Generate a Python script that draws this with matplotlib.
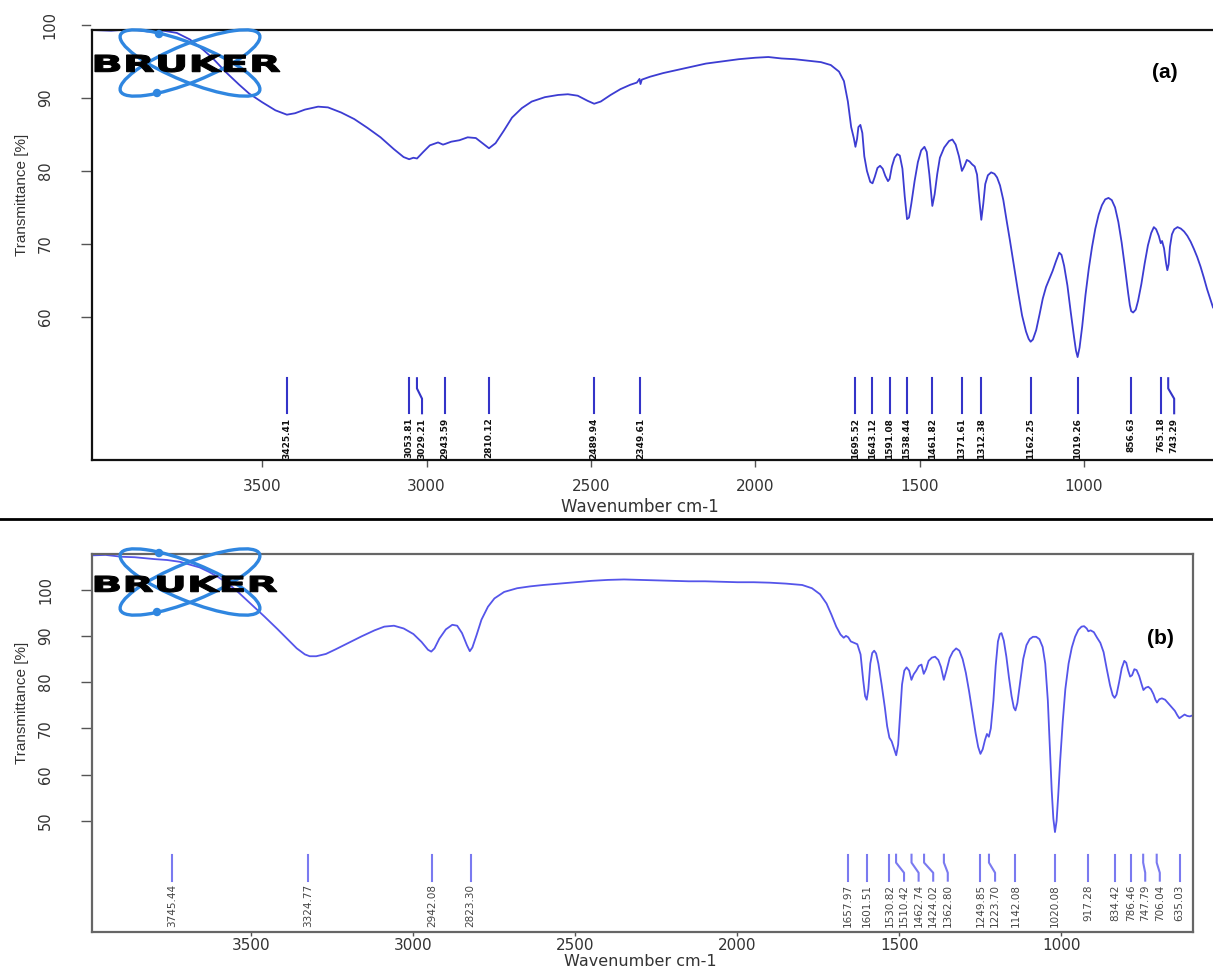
import numpy as np
import matplotlib
matplotlib.use("Agg")
import matplotlib.pyplot as plt
from matplotlib.patches import Ellipse, Circle, PathPatch
from matplotlib.textpath import TextPath
from matplotlib.font_manager import FontProperties
from matplotlib.transforms import Affine2D
from matplotlib.lines import Line2D

# ---- spectrum (a) ----
spec_a_wn = [4018, 3960, 3900, 3850, 3800, 3760, 3720, 3680, 3650, 3610, 3570, 3540, 3500, 3460, 3425,
             3400, 3370, 3330, 3300, 3260, 3220, 3180, 3140, 3100, 3070, 3053, 3040, 3029, 3010, 2990,
             2965, 2950, 2943, 2925, 2900, 2875, 2850, 2830, 2810, 2790, 2765, 2740, 2710, 2680, 2640,
             2600, 2570, 2540, 2510, 2490, 2470, 2440, 2410, 2380, 2360, 2352, 2349, 2345, 2320, 2280,
             2240, 2200, 2150, 2100, 2050, 2000, 1960, 1920, 1880, 1840, 1800, 1770, 1745, 1730, 1718,
             1708, 1700, 1695, 1690, 1686, 1680, 1674, 1668, 1660, 1650, 1643, 1636, 1628, 1620, 1612,
             1604, 1596, 1591, 1584, 1576, 1568, 1560, 1552, 1545, 1538, 1532, 1525, 1515, 1505, 1495,
             1485, 1478, 1470, 1461, 1454, 1446, 1438, 1425, 1410, 1400, 1390, 1380, 1371, 1364, 1356,
             1348, 1340, 1332, 1325, 1318, 1312, 1306, 1300, 1292, 1282, 1272, 1264, 1255, 1245, 1235,
             1225, 1212, 1200, 1188, 1176, 1168, 1162, 1155, 1145, 1135, 1125, 1115, 1105, 1095, 1085,
             1075, 1068, 1060, 1050, 1040, 1030, 1024, 1019, 1013, 1005, 995, 985, 975, 965, 955,
             945, 935, 925, 915, 905, 895, 885, 875, 865, 860, 856, 850, 842, 835, 825,
             815, 805, 795, 787, 780, 772, 766, 762, 756, 750, 746, 742, 738, 732, 725,
             715, 705, 695, 685, 675, 665, 655, 645, 635, 625, 615, 607]
spec_a_t = [99.3, 99.2, 99.4, 99.1, 99.2, 98.9, 98.0, 96.6, 95.4, 93.5, 91.8, 90.6, 89.4, 88.3, 87.7,
            87.9, 88.4, 88.8, 88.7, 88.0, 87.1, 85.9, 84.6, 83.0, 81.9, 81.6, 81.8, 81.7, 82.6, 83.5,
            83.9, 83.6, 83.7, 84.0, 84.2, 84.6, 84.5, 83.8, 83.1, 83.8, 85.5, 87.3, 88.6, 89.5, 90.1,
            90.4, 90.5, 90.3, 89.6, 89.2, 89.5, 90.4, 91.2, 91.8, 92.1, 92.6, 91.9, 92.5, 92.9, 93.4,
            93.8, 94.2, 94.7, 95.0, 95.3, 95.5, 95.6, 95.4, 95.3, 95.1, 94.9, 94.5, 93.6, 92.3, 89.5,
            86.0, 84.5, 83.3, 84.4, 86.0, 86.3, 85.2, 82.0, 80.0, 78.5, 78.3, 79.2, 80.4, 80.7, 80.3,
            79.3, 78.6, 78.9, 80.6, 81.8, 82.3, 82.1, 80.3, 76.5, 73.4, 73.6, 75.5, 78.6, 81.2, 82.8,
            83.3, 82.6, 79.5, 75.2, 76.8, 79.6, 81.8, 83.2, 84.1, 84.3, 83.6, 82.0, 80.0, 80.6, 81.5,
            81.3, 80.9, 80.6, 79.5, 76.0, 73.3, 75.5, 78.2, 79.4, 79.8, 79.6, 79.1, 78.0, 76.0, 73.2,
            70.5, 66.8, 63.4, 60.2, 58.0, 57.0, 56.6, 56.9, 58.2, 60.3, 62.5, 64.1, 65.2, 66.3, 67.6,
            68.8, 68.5, 67.0, 64.3, 60.7, 57.3, 55.4, 54.5, 55.8, 58.7, 63.0, 66.6, 69.6, 72.1, 74.0,
            75.3, 76.1, 76.3, 76.0, 75.0, 73.0, 70.2, 66.8, 63.2, 61.6, 60.8, 60.6, 61.0, 62.2, 64.5,
            67.3, 69.8, 71.5, 72.3, 72.0, 71.1, 70.1, 70.4, 69.4, 67.4, 66.4, 67.2, 69.6, 71.3, 72.0,
            72.3, 72.1, 71.7, 71.1, 70.3, 69.3, 68.2, 66.9, 65.4, 63.8, 62.4, 61.3]
peaks_a = [3425.41, 3053.81, 3029.21, 2943.59, 2810.12, 2489.94, 2349.61, 1695.52, 1643.12, 1591.08,
           1538.44, 1461.82, 1371.61, 1312.38, 1162.25, 1019.26, 856.63, 765.18, 743.29]

# ---- spectrum (b) ----
spec_b_wn = [3995, 3950, 3900, 3860, 3800, 3760, 3720, 3690, 3660, 3630, 3600, 3570, 3540, 3500, 3460,
             3420, 3390, 3360, 3335, 3320, 3300, 3270, 3240, 3200, 3160, 3120, 3090, 3060, 3030, 3000,
             2975, 2955, 2945, 2935, 2920, 2900, 2880, 2865, 2850, 2835, 2826, 2818, 2805, 2790, 2770,
             2750, 2720, 2680, 2640, 2600, 2550, 2500, 2450, 2400, 2350, 2300, 2250, 2200, 2150, 2100,
             2050, 2000, 1950, 1900, 1850, 1800, 1770, 1745, 1725, 1710, 1695, 1682, 1672, 1665, 1658,
             1650, 1640, 1630, 1620, 1612, 1606, 1601, 1596, 1590, 1584, 1578, 1572, 1565, 1555, 1545,
             1538, 1531, 1524, 1516, 1510, 1504, 1498, 1492, 1485, 1478, 1470, 1463, 1456, 1448, 1440,
             1432, 1425, 1418, 1410, 1400, 1390, 1380, 1372, 1363, 1355, 1345, 1335, 1325, 1315, 1305,
             1295, 1285, 1275, 1265, 1257, 1250, 1243, 1236, 1230, 1224, 1218, 1210, 1203, 1196, 1190,
             1185, 1178, 1170, 1162, 1154, 1147, 1142, 1136, 1128, 1118, 1108, 1098, 1088, 1078, 1068,
             1058, 1050, 1042, 1036, 1030, 1025, 1020, 1015, 1010, 1004, 996, 988, 978, 968, 958,
             948, 938, 930, 922, 917, 910, 900, 890, 880, 870, 860, 850, 842, 836, 830,
             822, 814, 806, 800, 794, 788, 782, 775, 768, 760, 752, 747, 740, 732, 724,
             716, 710, 705, 698, 690, 680, 670, 660, 650, 642, 636, 628, 620, 612, 604, 596]
spec_b_t = [107.4, 107.5, 107.1, 107.0, 106.6, 106.4, 106.0, 105.4, 104.8, 103.8, 102.6, 101.2, 99.4, 96.8, 94.2,
            91.5, 89.4, 87.3, 86.0, 85.6, 85.6, 86.1, 87.1, 88.5, 89.9, 91.2, 92.0, 92.2, 91.6, 90.4,
            88.7, 87.0, 86.6, 87.3, 89.4, 91.4, 92.4, 92.2, 90.6, 88.0, 86.7, 87.5, 90.2, 93.5, 96.3,
            98.1, 99.5, 100.3, 100.7, 101.0, 101.3, 101.6, 101.9, 102.1, 102.2, 102.1, 102.0, 101.9, 101.8, 101.8,
            101.7, 101.6, 101.6, 101.5, 101.3, 101.0, 100.3, 99.0, 97.0, 94.6, 92.0, 90.3, 89.6, 90.0, 89.7,
            88.8, 88.5, 88.2, 86.0, 80.5, 77.0, 76.2, 78.5, 84.0, 86.3, 86.8, 86.2, 84.0, 79.5, 74.5,
            70.5, 68.0, 67.2, 65.5, 64.2, 66.5, 73.0, 79.5, 82.5, 83.2, 82.5, 80.5, 81.7, 82.5, 83.5,
            83.8, 81.8, 82.8, 84.6, 85.3, 85.5, 84.8, 83.3, 80.5, 82.5, 85.2, 86.6, 87.3, 86.8, 85.0,
            82.0, 78.0, 73.5, 69.0, 66.0, 64.5, 65.5, 67.5, 68.8, 68.2, 70.0, 76.0, 83.5, 88.8, 90.4,
            90.6, 89.0, 85.5, 81.0, 77.0, 74.5, 73.9, 75.5, 79.8, 85.0, 88.0, 89.3, 89.8, 89.8, 89.3,
            87.6, 84.0, 76.0, 66.0, 56.5, 50.5, 47.6, 50.0, 55.5, 63.0, 71.5, 78.5, 84.0, 87.5, 89.8,
            91.3, 92.0, 92.1, 91.6, 91.0, 91.2, 90.8, 89.6, 88.5, 86.5, 82.8, 79.3, 77.2, 76.6, 77.3,
            80.0, 83.0, 84.6, 84.2, 82.5, 81.2, 81.5, 82.8, 82.6, 81.3, 79.4, 78.3, 78.8, 79.0, 78.5,
            77.4, 76.2, 75.6, 76.3, 76.5, 76.2, 75.4, 74.6, 73.8, 72.8, 72.2, 72.6, 73.0, 72.7, 72.6, 72.8]
peaks_b = [3745.44, 3324.77, 2942.08, 2823.30, 1657.97, 1601.51, 1530.82, 1510.42, 1462.74, 1424.02,
           1362.80, 1249.85, 1223.70, 1142.08, 1020.08, 917.28, 834.42, 786.46, 747.79, 706.04, 635.03]

xticks = [3500, 3000, 2500, 2000, 1500, 1000]
yticks_a = [60, 70, 80, 90]
yticks_b = [50, 60, 70, 80, 90, 100]

W, H = 1213, 968
fig = plt.figure(figsize=(W / 100, H / 100), dpi=100)
# image pixel coords (y down) -> display
pix = Affine2D().scale(1 / 100, -1 / 100).translate(0, H / 100) + fig.dpi_scale_trans


def fpos(x0, y0, x1, y1):
    return [x0 / W, 1 - y1 / H, (x1 - x0) / W, (y1 - y0) / H]


def spread(pos, gap):
    # push crowded labels to the right (lower wavenumber)
    out = [pos[0]]
    for p in pos[1:]:
        out.append(min(p, out[-1] - gap))
    return out


def draw_logo(cx, cy, tx0, tx1, ty0, ty1):
    for ang in (22, -22):
        fig.add_artist(Ellipse((cx, cy), 150, 38, angle=ang, fill=False, ec="#2f86e0", lw=2.4, transform=pix))
    fig.add_artist(Circle((cx - 31, cy - 29), 3.5, color="#2f86e0", transform=pix))
    fig.add_artist(Circle((cx - 33, cy + 30), 3.5, color="#2f86e0", transform=pix))
    tp = TextPath((0, 0), "BRUKER", size=1, prop=FontProperties(family="DejaVu Sans", weight="bold"))
    ext = tp.get_extents()
    tr = (Affine2D().translate(-ext.x0, -ext.y0)
          .scale((tx1 - tx0) / ext.width / 100, (ty1 - ty0) / ext.height / 100)
          .translate(tx0 / 100, (H - ty1) / 100) + fig.dpi_scale_trans)
    fig.add_artist(PathPatch(tp, fc="black", ec="black", lw=0.8, transform=tr))


def style_axis(ax, yticks, spine_col, xlen, xpad):
    ax.set_xticks(xticks)
    ax.set_yticks(yticks)
    ax.tick_params(axis="y", direction="out", length=8, width=1, color="#555555", pad=20,
                   labelrotation=90, labelsize=10.5, labelcolor="#333333")
    ax.tick_params(axis="x", direction="out", length=xlen, width=1, color="#555555", pad=xpad,
                   labelsize=11, labelcolor="#333333")
    for lab in ax.get_yticklabels():
        lab.set_verticalalignment("center")
    for s in ax.spines.values():
        s.set_color(spine_col)
        s.set_linewidth(1.6)


def draw_peaks(ax, peaks, gap, t_top, t_m1, t_m2, t_bot, t_lab, lcol, tcol, tsize, tweight):
    labpos = spread(peaks, gap)
    for p, q in zip(peaks, labpos):
        ax.plot([p, p, q, q], [t_top, t_m1, t_m2, t_bot], color=lcol, lw=1.5)
        ax.text(q, t_lab, f"{p:.2f}", rotation=90, ha="center", va="top", fontsize=tsize,
                color=tcol, fontweight=tweight)


narrow = ["Liberation Sans Narrow", "Liberation Sans", "DejaVu Sans"]
plt.rcParams["font.family"] = ["DejaVu Sans"]

# ---- panel (a) ----
axA = fig.add_axes(fpos(92, 30, 1213, 460))
axA.plot(spec_a_wn, spec_a_t, color="#3c3cd2", lw=1.3)
axA.set_xlim(4018, 607)
axA.set_ylim(40.4, 99.3)
style_axis(axA, yticks_a, "#111111", 5, 9)
axA.spines["right"].set_visible(False)
ytr = axA.get_yaxis_transform()
axA.plot([-10 / 1121, -2 / 1121], [100, 100], color="#555555", lw=1, transform=ytr, clip_on=False)
axA.text(-42 / 1121, 100, "100", rotation=90, ha="center", va="center", fontsize=10.5,
         color="#333333", transform=ytr, clip_on=False)
draw_peaks(axA, peaks_a, 40, 51.6, 50.2, 48.8, 46.8, 46.2, "#3434c8", "#111111", 6.5, "bold")
fig.text(1165 / W, 1 - 72 / H, "(a)", fontsize=15, fontweight="bold", ha="center", va="center",
         family=["Liberation Sans", "DejaVu Sans"])
fig.text(22 / W, 1 - 195 / H, "Transmittance [%]", rotation=90, fontsize=11, ha="center", va="center",
         color="#333333", family=narrow)
fig.text(640 / W, 1 - 507 / H, "Wavenumber cm-1", fontsize=12, ha="center", va="center", color="#333333")

# separator
fig.add_artist(Line2D([0, 1], [1 - 519 / H, 1 - 519 / H], color="black", lw=2, transform=fig.transFigure))

# ---- panel (b) ----
axB = fig.add_axes(fpos(92, 554, 1193, 932))
axB.plot(spec_b_wn, spec_b_t, color="#5555ea", lw=1.3)
axB.set_xlim(3992, 594)
axB.set_ylim(26, 107.7)
style_axis(axB, yticks_b, "#666666", 3, 1)
draw_peaks(axB, peaks_b, 45, 42.7, 41.0, 38.8, 37.1, 36.3, "#7a7af0", "#444444", 7.5, "normal")
fig.text(1160 / W, 1 - 638 / H, "(b)", fontsize=15, fontweight="bold", ha="center", va="center",
         family=["Liberation Sans", "DejaVu Sans"])
fig.text(22 / W, 1 - 703 / H, "Transmittance [%]", rotation=90, fontsize=11, ha="center", va="center",
         color="#333333", family=narrow)
fig.text(640 / W, 1 - 961 / H, "Wavenumber cm-1", fontsize=11.5, ha="center", va="center", color="#333333")

draw_logo(190, 63, 95, 280, 55, 72)
draw_logo(190, 582, 95, 277, 576, 592)

fig.savefig("out.png", dpi=100)
plt.close(fig)
